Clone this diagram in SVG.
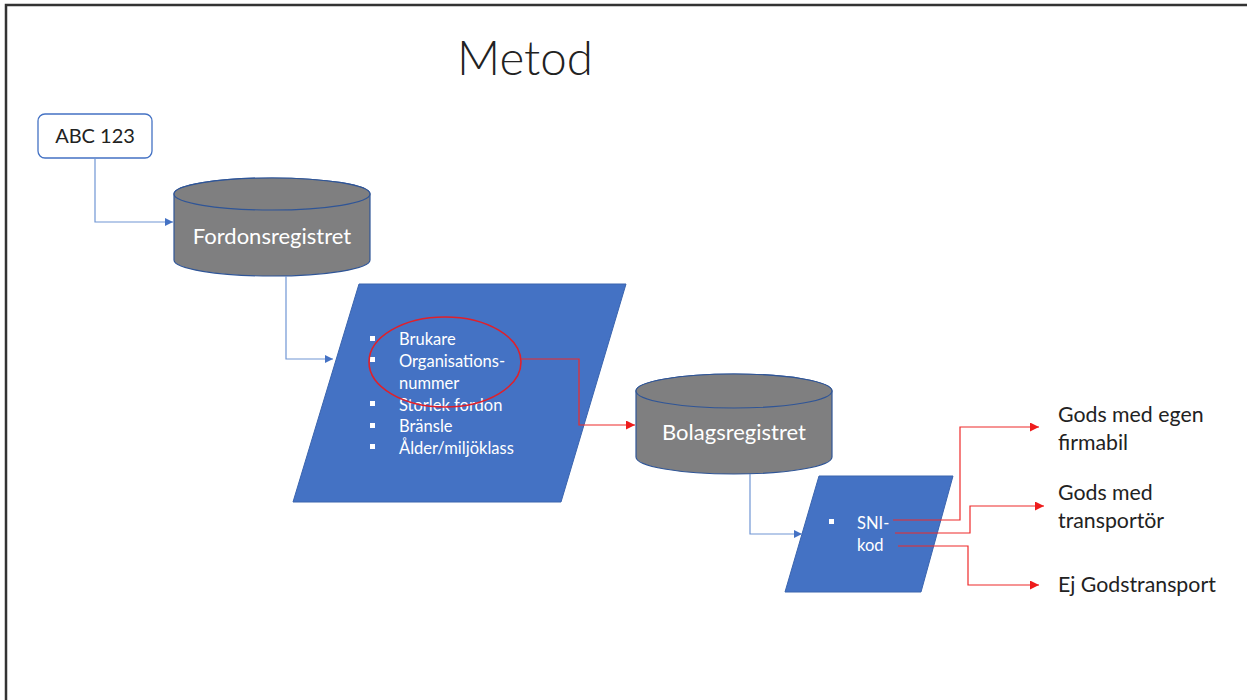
<svg xmlns="http://www.w3.org/2000/svg" width="1247" height="700" viewBox="0 0 1247 700">
<style>
.frame{stroke:#333;stroke-width:2.5;fill:none}
.blue-line{stroke:#7096D4;stroke-width:1.2;fill:none}
.red-line{stroke:#EE2A2A;stroke-width:1.2;fill:none}
.cyl{fill:#7F7F80;stroke:#2F5597;stroke-width:1.2}
.para{fill:#4472C4;stroke:#3A64AE;stroke-width:1}
.t{font-family:Lato,"Open Sans","Liberation Sans",sans-serif}
.dark{fill:#222}
.white{fill:#fff}
.bul{fill:#fff}
</style>
<defs>
<marker id="ab" viewBox="0 0 10 10" refX="10" refY="5" markerWidth="8" markerHeight="8" markerUnits="userSpaceOnUse" orient="auto"><path d="M0,0 L10,5 L0,10 z" fill="#4472C4"/></marker>
<marker id="ar" viewBox="0 0 10 10" refX="10" refY="5" markerWidth="9" markerHeight="9" markerUnits="userSpaceOnUse" orient="auto"><path d="M0,0 L10,5 L0,10 z" fill="#EE1C1C"/></marker>
</defs>
<rect width="1247" height="700" fill="#fff"/>
<path class="frame" d="M6,700 V5 H1247"/>
<text class="t dark" x="525" y="75" font-size="47.5" font-weight="300" text-anchor="middle">Metod</text>

<g id="abc123">
<rect x="38" y="114" width="114" height="44" rx="7" fill="#fff" stroke="#4472C4" stroke-width="1.3"/>
<text class="t dark" x="95" y="143" font-size="20" text-anchor="middle">ABC 123</text>
</g>

<g id="fordonsregistret">
<path class="cyl" d="M174,194 V260 A98,16 0 0 0 370,260 V194 A98,16 0 0 0 174,194 Z"/>
<ellipse class="cyl" cx="272" cy="194" rx="98" ry="16"/>
<text class="t white" x="272" y="244" font-size="22" text-anchor="middle">Fordonsregistret</text>
</g>

<g id="fordonsdata">
<polygon class="para" points="359,284 626,284 561,502 293,502"/>
<g class="t white" font-size="16.5">
<rect class="bul" x="370" y="336" width="5" height="5"/>
<text x="399" y="345">Brukare</text>
<rect class="bul" x="370" y="357" width="5" height="5"/>
<text x="399" y="367">Organisations-</text>
<text x="399" y="389">nummer</text>
<rect class="bul" x="370" y="401" width="5" height="5"/>
<text x="399" y="411">Storlek fordon</text>
<rect class="bul" x="370" y="423" width="5" height="5"/>
<text x="399" y="432">Bränsle</text>
<rect class="bul" x="370" y="444" width="5" height="5"/>
<text x="399" y="454">Ålder/miljöklass</text>
</g>
<ellipse cx="445" cy="362" rx="76" ry="45" fill="none" stroke="#E0202A" stroke-width="1.6"/>
</g>

<g id="bolagsregistret">
<path class="cyl" d="M636,391 V457 A98,17 0 0 0 832,457 V391 A98,17 0 0 0 636,391 Z"/>
<ellipse class="cyl" cx="734" cy="391" rx="98" ry="17"/>
<text class="t white" x="734" y="440" font-size="22" text-anchor="middle">Bolagsregistret</text>
</g>

<g id="snikod">
<polygon class="para" points="819,476 953,476 921,592 785,592"/>
<g class="t white" font-size="16.5">
<rect class="bul" x="829" y="519" width="5" height="5"/>
<text x="857" y="529">SNI-</text>
<text x="857" y="551">kod</text>
</g>
</g>

<g id="outcomes" class="t dark" font-size="21.3">
<text x="1058" y="422">Gods med egen</text>
<text x="1058" y="450">firmabil</text>
<text x="1058" y="500">Gods med</text>
<text x="1058" y="528">transportör</text>
<text x="1058" y="592">Ej Godstransport</text>
</g>

<g id="connectors">
<path class="blue-line" d="M95,158 V222 H173" marker-end="url(#ab)"/>
<path class="blue-line" d="M286,276 V359 H333" marker-end="url(#ab)"/>
<path class="red-line" d="M521,359 H579 V425 H635" marker-end="url(#ar)"/>
<path class="blue-line" d="M750,474 V534 H802" marker-end="url(#ab)"/>
<path class="red-line" d="M893,520 H960 V427 H1039" marker-end="url(#ar)"/>
<path class="red-line" d="M895,533 H970 V506 H1044" marker-end="url(#ar)"/>
<path class="red-line" d="M898,546 H968 V585 H1039" marker-end="url(#ar)"/>
</g>
</svg>
